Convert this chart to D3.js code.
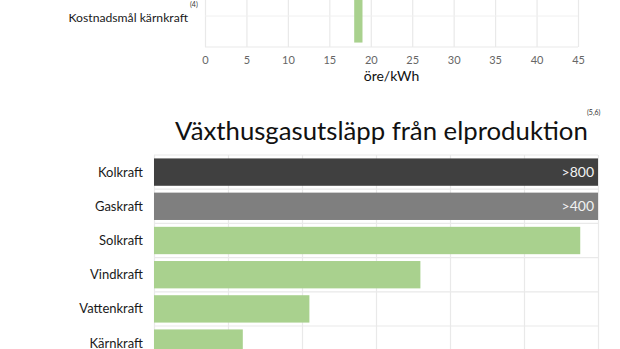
<!DOCTYPE html>
<html>
<head>
<meta charset="utf-8">
<script src="https://cdn.jsdelivr.net/npm/d3@7"></script>
<style>
  html, body { margin: 0; padding: 0; background: #fff; }
  svg { display: block; font-family: Lato, "Open Sans", sans-serif; }
</style>
</head>
<body>
<svg id="chart" width="620" height="349"></svg>
<script>
// Kostnadsmål (öre/kWh) – range bar
const costCategories = ["Kostnadsmål kärnkraft"];
const costRanges = [[18, 19]];
const costTicks = [0, 5, 10, 15, 20, 25, 30, 35, 40, 45];

// Växthusgasutsläpp från elproduktion
const emissionCategories = ["Kolkraft", "Gaskraft", "Solkraft", "Vindkraft", "Vattenkraft", "Kärnkraft"];
const emissionValues = [800, 400, 28.8, 18, 10.5, 6];
const emissionLabels = [">800", ">400", "", "", "", ""];
const emissionColors = ["#404040", "#7f7f7f", "#a9d18e", "#a9d18e", "#a9d18e", "#a9d18e"];
const emissionTicks = [0, 5, 10, 15, 20, 25, 30];

const svg = d3.select("#chart");
const gridColor = "#e9e9e9";

// ---------- Upper panel: cost target ----------
const xCost = d3.scaleLinear().domain([0, 45]).range([205, 578]);
const yCost = d3.scaleBand().domain(costCategories).range([-13, 47]).padding(0.08);

const costG = svg.append("g");

// vertical grid
costG.append("g")
  .attr("transform", "translate(0,47)")
  .call(d3.axisBottom(xCost).tickValues(costTicks).tickSize(-60).tickFormat(""))
  .call(g => g.select(".domain").remove())
  .call(g => g.selectAll("line").attr("stroke", gridColor).attr("stroke-width", 1.2));

// horizontal category line and bottom border
costG.append("line")
  .attr("x1", xCost(0)).attr("x2", xCost(45))
  .attr("y1", yCost(costCategories[0]) + yCost.bandwidth() / 2 - 1)
  .attr("y2", yCost(costCategories[0]) + yCost.bandwidth() / 2 - 1)
  .attr("stroke", "#f0f0f0");
costG.append("line")
  .attr("x1", xCost(0)).attr("x2", xCost(45))
  .attr("y1", 47).attr("y2", 47)
  .attr("stroke", gridColor).attr("stroke-width", 1.2);

// range bar
costG.selectAll("rect.cost")
  .data(costCategories)
  .join("rect")
  .attr("class", "cost")
  .attr("x", (d, i) => xCost(costRanges[i][0]))
  .attr("width", (d, i) => xCost(costRanges[i][1]) - xCost(costRanges[i][0]))
  .attr("y", d => yCost(d))
  .attr("height", yCost.bandwidth())
  .attr("fill", "#a9d18e");

// tick labels
costG.append("g")
  .attr("transform", "translate(0,47)")
  .call(d3.axisBottom(xCost).tickValues(costTicks).tickSize(0).tickPadding(9))
  .call(g => g.select(".domain").remove())
  .call(g => g.selectAll("text")
    .attr("fill", "#666").attr("font-size", 11)
    .attr("font-family", "Lato, sans-serif"));

// axis title
costG.append("text")
  .attr("x", (xCost(0) + xCost(45)) / 2)
  .attr("y", 81)
  .attr("text-anchor", "middle")
  .attr("font-size", 14)
  .attr("fill", "#111")
  .text("öre/kWh");

// category label with reference mark
costCategories.forEach(c => {
  const cy = yCost(c) + yCost.bandwidth() / 2;
  costG.append("text")
    .attr("x", 188).attr("y", cy + 5)
    .attr("text-anchor", "end")
    .attr("font-size", 12.2)
    .attr("fill", "#1a1a1a")
    .text(c);
  costG.append("text")
    .attr("x", 190).attr("y", cy - 10)
    .attr("font-size", 7)
    .attr("fill", "#333")
    .text("(4)");
});

// ---------- Lower panel: emissions ----------
const xEm = d3.scaleLinear().domain([0, 30]).range([154, 598]).clamp(true);
const yEm = d3.scaleBand().domain(emissionCategories).range([155, 360.2])
  .paddingInner(0.2).paddingOuter(0.1);

const emG = svg.append("g");

// title
const title = emG.append("text")
  .attr("x", 175).attr("y", 140)
  .attr("font-size", 28)
  .attr("fill", "#111")
  .text("Växthusgasutsläpp från elproduktion");
const tw = title.node().getComputedTextLength();
title.attr("font-size", 28 * 413 / tw);
emG.append("text")
  .attr("x", 587).attr("y", 115)
  .attr("font-size", 7)
  .attr("fill", "#333")
  .text("(5,6)");

// vertical grid
emG.append("g")
  .attr("transform", "translate(0,360)")
  .call(d3.axisBottom(xEm).tickValues(emissionTicks).tickSize(-205).tickFormat(""))
  .call(g => g.select(".domain").remove())
  .call(g => g.selectAll("line").attr("stroke", gridColor).attr("stroke-width", 1.2));

// horizontal band separators
const step = yEm.step();
emG.selectAll("line.sep")
  .data(d3.range(emissionCategories.length + 1))
  .join("line")
  .attr("class", "sep")
  .attr("x1", xEm(0)).attr("x2", xEm(30))
  .attr("y1", i => 155 + i * step)
  .attr("y2", i => 155 + i * step)
  .attr("stroke", gridColor).attr("stroke-width", 1.2);

// bars
emG.selectAll("rect.em")
  .data(emissionCategories)
  .join("rect")
  .attr("class", "em")
  .attr("x", xEm(0))
  .attr("y", d => yEm(d))
  .attr("width", (d, i) => xEm(emissionValues[i]) - xEm(0))
  .attr("height", yEm.bandwidth())
  .attr("fill", (d, i) => emissionColors[i]);

// value labels
emG.selectAll("text.val")
  .data(emissionCategories)
  .join("text")
  .attr("class", "val")
  .attr("x", (d, i) => xEm(emissionValues[i]) - 4)
  .attr("y", d => yEm(d) + yEm.bandwidth() / 2 + 5)
  .attr("text-anchor", "end")
  .attr("font-size", 14)
  .attr("fill", "#f2f2f2")
  .text((d, i) => emissionLabels[i]);

// category labels
emG.selectAll("text.cat")
  .data(emissionCategories)
  .join("text")
  .attr("class", "cat")
  .attr("x", 143)
  .attr("y", d => yEm(d) + yEm.bandwidth() / 2 + 4.5)
  .attr("text-anchor", "end")
  .attr("font-size", 13)
  .attr("fill", "#1a1a1a")
  .text(d => d);
</script>
</body>
</html>
